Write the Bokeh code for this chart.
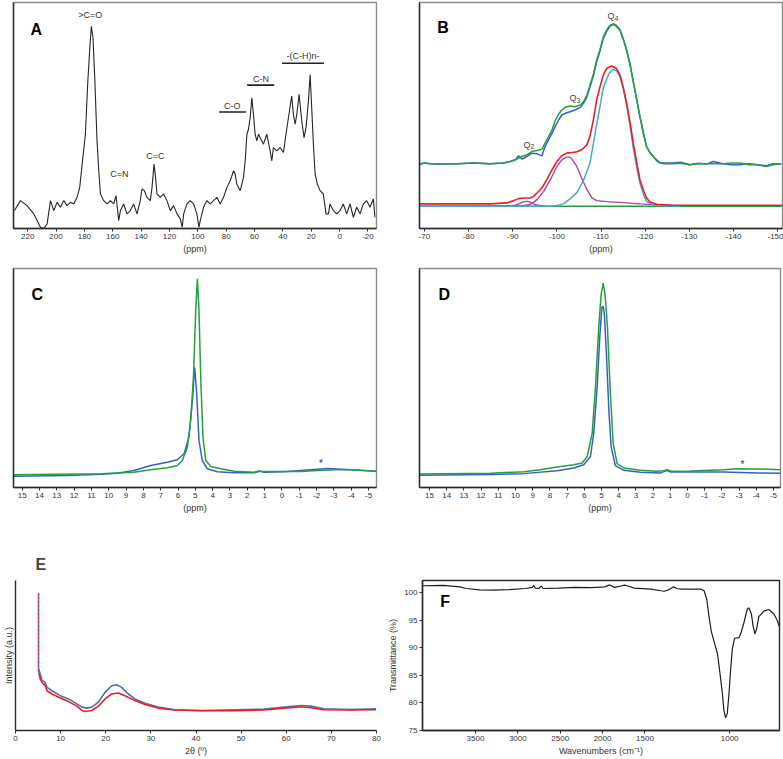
from bokeh.plotting import figure
from bokeh.models import Range1d, FixedTicker
from bokeh.layouts import row, column
from bokeh.embed import file_html
from bokeh.resources import INLINE
from bokeh.core.properties import value

FONT = "Liberation Sans"

# ---------------- Panel A : 13C NMR ----------------
a_ppm = [229.3, 225.1, 220.4, 215.7, 213.3, 211.0, 208.6, 206.3, 203.9, 201.6,
         199.2, 196.9, 194.6, 192.2, 189.9, 187.5, 185.2, 183.3, 181.6, 179.3,
         177.7, 176.2, 175.1, 173.9, 172.7, 171.1, 169.7, 168.7, 166.4, 164.0,
         161.7, 159.3, 157.7, 155.8, 154.6, 152.3, 150.0, 147.6, 145.3, 142.9,
         140.6, 139.4, 137.7, 135.9, 133.5, 132.3, 130.9, 129.8, 128.8, 126.5,
         124.1, 121.8, 119.4, 117.1, 114.7, 112.4, 111.0, 110.0, 107.7, 105.4,
         103.0, 100.7, 99.2, 98.3, 96.0, 93.6, 91.3, 88.9, 86.6, 84.2,
         81.9, 79.5, 77.2, 74.8, 73.7, 72.5, 71.3, 70.1, 67.8, 66.6,
         65.4, 64.3, 63.1, 61.9, 60.8, 59.6, 58.4, 57.2, 56.1, 53.7,
         51.4, 49.0, 47.8, 46.7, 44.3, 42.0, 39.6, 38.5, 36.8, 35.4,
         33.8, 32.6, 31.4, 30.2, 28.6, 26.7, 25.1, 23.7, 22.0, 20.8,
         19.7, 18.5, 17.3, 15.7, 13.8, 11.5, 9.6, 7.9, 6.8, 4.4,
         2.1, -0.3, -2.6, -5.0, -7.3, -9.7, -12.0, -14.4, -16.7, -19.1,
         -21.4, -23.8, -24.9]
a_int = [18, 28, 23, 14.7, 8, 1.3, 0, 4.7, 28, 18,
         26.3, 21.3, 28, 23, 26.3, 24.7, 31.3, 41.3, 64.7, 94.7,
         144.7, 181.3, 203, 191.3, 151.3, 88, 54.7, 34.7, 28, 24.7,
         28, 24.7, 33, 8, 18, 24.7, 14.7, 18, 24.7, 14.7,
         28, 39.7, 38, 31.3, 28, 41.3, 64.7, 51.3, 34.7, 31.3,
         34.7, 28, 18, 23, 14.7, 9.7, 1.3, 14.7, 24.7, 28,
         24.7, 14.7, 1.3, 8, 21.3, 28, 24.7, 28, 31.3, 24.7,
         31.3, 41.3, 48, 58, 54.7, 44.7, 41.3, 38, 51.3, 68,
         94.7, 99.7, 111.3, 131.3, 114.7, 94.7, 88, 94.7, 91.3, 84.7,
         94.7, 78, 68, 81.3, 78, 81.3, 76.3, 88, 104.7, 118,
         133, 114.7, 104.7, 114.7, 134.7, 108, 91.3, 101.3, 128, 154.7,
         121.3, 84.7, 54.7, 44.7, 38, 34.7, 14.7, 14.7, 24.7, 18,
         14.7, 18, 24.7, 14.7, 24.7, 11.3, 21.3, 14.7, 24.7, 28,
         21.3, 29.7, 11.3]
a_ticks = [220, 200, 180, 160, 140, 120, 100, 80, 60, 40, 20, 0, -20]
a_labels = [">C=O", "C=N", "C=C", "C-O", "C-N", "-(C-H)n-"]
a_label_ppm = [175.8, 155.4, 130.0, 75.8, 55.4, 25.8]
a_label_int = [214, 55, 73, 123, 150, 173]
a_bar_from = [85.0, 65.2, 40.6]
a_bar_to = [66.0, 46.2, 11.0]
a_bar_int = [117, 144, 166]

# ---------------- Panel B : 29Si NMR ----------------
b_ppm = [-68.9, -69.9, -71.4, -73.6, -77.4, -81.1, -84.9, -87.9, -89.4, -90.6,
         -91.3, -92.1, -93.2, -94.3, -95.5, -96.6,
         -97.3, -98.1, -98.9, -99.6, -100.4, -101.1, -101.9, -103.0, -104.1, -105.3,
         -106.0, -106.8, -107.5, -108.3, -109.0, -109.8, -110.5, -111.3, -112.0, -112.8,
         -113.5, -114.3, -115.0, -115.8, -116.6, -117.3, -118.1, -118.8, -119.6, -120.3,
         -121.1, -121.8, -122.6, -123.3, -124.1, -126.3, -128.0, -130.1, -132.0, -133.9,
         -135.4, -137.6, -139.5, -141.4, -143.5, -145.2, -147.4, -149.0, -150.8]
b_blue = [64, 65.7, 65, 64.7, 65, 65.7, 65, 65.7, 67.3, 69,
          73, 69.7, 72.3, 75.7, 75, 73,
          82.3, 89, 95.7, 102.3, 109, 114, 115.7, 117.3, 119, 121.7,
          125.7, 132.3, 142.3, 154, 167.3, 179, 190.7, 198.3, 203, 205,
          203, 199, 190.7, 179, 164, 147.3, 129, 112.3, 95.7, 82.3,
          75.7, 72.3, 69, 66.3, 65.7, 65.7, 66.5, 64, 65.5, 64.7,
          67.3, 65, 64, 64, 65, 64.3, 63, 65, 64.7]
b_green = [65, 65.7, 65, 64.7, 65, 65.7, 65, 65.7, 67.3, 69,
           70.5, 72.3, 74, 77.3, 78.3, 79.7,
           85.7, 92.3, 99, 108.3, 115, 119, 121.7, 123, 122.3, 124,
           127.3, 134, 144, 155.7, 169, 180.7, 192.3, 199.7, 204, 205.7,
           204, 199.7, 190.7, 179, 164, 147.3, 129, 112.3, 95.7, 82.3,
           76.3, 72.3, 68, 65.7, 65, 65, 65.5, 64, 65, 65,
           65, 65, 65.7, 65.7, 64, 64, 62.3, 64, 65]
b_fit_ppm = [-68.9, -84.9, -88.7, -90.2, -91.3, -92.4, -94.0, -94.7, -95.5, -96.6,
             -97.7, -98.9, -100.0, -101.1, -102.2, -103.4, -104.5, -105.6, -106.8, -107.5,
             -108.3, -109.0, -109.8, -110.5, -111.3, -112.4, -113.5, -114.3, -115.0, -115.8,
             -116.6, -117.3, -118.1, -118.8, -119.6, -120.3, -121.1, -122.6, -126.3, -151.0]
b_fit = [24.7, 24.7, 25.7, 28, 30, 30.7, 30.7, 32.3, 35.7, 40.7,
         49, 59, 67.3, 73, 75.7, 76.3, 77, 79, 84, 93,
         110, 129, 143, 154, 161, 163.3, 160.7, 154, 142.3, 125.7,
         105.7, 85.7, 65.7, 49, 38.3, 30.7, 26.7, 24.3, 23.3, 23.3]
b_q2_ppm = [-88.5, -90.5, -91.5, -92.3, -93.0, -93.8, -94.6, -95.5, -97.5]
b_q2 = [22.3, 23.3, 25, 26.8, 27.3, 26.8, 25, 23.3, 22.3]
b_q3_ppm = [-68.9, -92.4, -94.0, -95.5, -97.0, -98.5, -100.0, -101.1, -102.2, -103.0,
            -103.4, -104.5, -105.6, -106.8, -107.9, -109.0, -111.3, -115.0, -118.8, -122.6,
            -127.9]
b_q3 = [22.3, 23, 24.3, 29, 37.3, 49, 62.3, 69, 71.7, 71.7,
        69.7, 62.3, 50.7, 39, 30.7, 28, 27, 26, 24.7, 23.7,
        22.7]
b_q4_ppm = [-68.9, -98.5, -100.0, -101.5, -103.0, -104.5, -106.0, -107.5, -109.0, -110.5,
            -111.7, -112.4, -112.9, -113.5, -114.3, -115.0, -115.8, -116.6, -117.3, -118.1,
            -118.8, -119.6, -120.3, -121.5, -122.6, -127.9]
b_q4 = [22.3, 22.3, 23, 25, 29.7, 36, 48, 66, 104, 141,
        155, 159, 159.7, 158.3, 152.3, 140.7, 124, 102.3, 80.7, 60.7,
        45.7, 34, 27.3, 24, 23, 22.3]
b_base_ppm = [-68.9, -151.0]
b_base = [22.3, 22.3]
b_ticks = [-70, -80, -90, -100, -110, -120, -130, -140, -150]
b_q_names = ["Q", "Q", "Q"]
b_q_sub = ["2", "3", "4"]
b_q_ppm = [-93.7, -104.1, -112.7]
b_q_int = [84, 131, 213]

# ---------------- Panel C : 1H NMR ----------------
c_ppm_green = [15.48, 10.47, 8.54, 7.58, 6.62, 6.04, 5.75, 5.46, 5.27, 5.11,
               4.98, 4.88, 4.79, 4.69, 4.56, 4.40, 4.11, 3.53, 2.76, 1.61,
               1.35, 1.22, 0.84, -1.09, -2.05, -3.02, -3.98, -5.46]
c_green = [12.7, 13.7, 15.3, 17.7, 19.7, 22, 27, 40.3, 67, 110.3,
           177, 208.7, 177, 110.3, 50.3, 27, 21, 18.7, 16.3, 15.3,
           16.5, 16.3, 16, 16, 17, 17.7, 17.7, 16.3]
c_ppm_blue = [15.48, 12.4, 10.47, 9.51, 8.54, 7.58, 6.62, 6.04, 5.65, 5.37,
              5.17, 5.04, 4.92, 4.79, 4.60, 4.31, 3.73, 2.76, 1.61, 1.26,
              1.03, -0.13, -2.05, -2.63, -3.98, -5.46]
c_blue = [11.3, 12, 13.3, 14.3, 17, 22, 25.3, 27.7, 33.7, 50.3,
          87, 120.3, 93.7, 47, 27, 18.7, 15.7, 14.7, 14.7, 16.3,
          15.3, 15.7, 18.3, 19, 17.7, 16.3]

# ---------------- Panel D : 1H NMR ----------------
d_ppm_green = [15.58, 11.45, 9.52, 8.55, 7.58, 6.61, 6.12, 5.83, 5.54, 5.35,
               5.16, 5.02, 4.90, 4.79, 4.65, 4.48, 4.32, 4.09, 3.70, 2.73,
               1.76, 1.38, 1.18, 0.89, -0.17, -2.11, -2.89, -4.05, -5.41]
d_green = [13.7, 14.3, 16, 18, 20.7, 23, 24.7, 31.3, 54.7, 101.3,
           161.3, 194.7, 206.3, 194.7, 161.3, 94.7, 44.7, 24, 19.7, 17.3,
           16.3, 17, 18, 16.3, 16.7, 18, 19, 18.7, 18]
d_ppm_blue = [15.58, 11.45, 9.52, 7.58, 6.61, 6.03, 5.64, 5.45, 5.25, 5.10,
              4.98, 4.90, 4.83, 4.71, 4.57, 4.44, 4.19, 3.70, 2.73, 1.57,
              1.38, 1.18, 0.99, -0.17, -2.11, -4.05, -5.41]
d_blue = [12.3, 13, 14, 17, 19.7, 23, 31.3, 54.7, 101.3, 151.3,
          181.3, 183, 174.7, 134.7, 78, 41.3, 22, 17.3, 15.3, 14.7,
          16, 17, 15.7, 15.7, 15.7, 14.7, 14.3]
cd_ticks = [15, 14, 13, 12, 11, 10, 9, 8, 7, 6, 5, 4, 3, 2, 1, 0, -1, -2, -3, -4, -5]
c_star = (-2.25, 24.0)
d_star = (-3.2, 23.0)

# ---------------- Panel E : XRD ----------------
e_start_2theta = [5.1, 5.1]
e_start = [139, 59]
e_2theta_red = [5.15, 5.51, 5.88, 6.25, 6.62, 6.99, 8.09, 9.93, 11.76, 13.6,
                14.71, 15.44, 16.91, 18.38, 19.85, 21.32, 22.79, 24.26, 26.47, 28.68,
                31.62, 35.29, 41.18, 48.53, 55.15, 59.56, 63.24, 65.44, 68.38, 74.26,
                79.93]
e_red = [58.7, 52, 48.7, 47, 45.3, 40.3, 37, 33, 29.3, 24.7,
         20.3, 19.3, 20.3, 24.7, 32, 37, 38, 35.3, 30.3, 26.3,
         22.7, 20.7, 20, 20, 20.7, 22.7, 24, 23, 21, 20.7,
         21]
e_2theta_blue = [5.15, 5.51, 5.88, 6.47, 6.99, 8.09, 9.93, 11.76, 13.6, 14.71,
                 15.81, 16.91, 18.38, 19.85, 21.32, 22.43, 23.53, 25.0, 26.47, 28.68,
                 31.62, 35.29, 41.18, 48.53, 55.15, 59.56, 63.24, 65.44, 68.38, 74.26,
                 79.93]
e_blue = [62, 57, 50.3, 49.3, 43.7, 40.3, 35.3, 32, 27, 23.7,
          22.7, 23.7, 28.7, 38.7, 45.3, 46.3, 43.7, 37, 32, 27.7,
          23.7, 21, 20.3, 21, 21.7, 23.7, 25.3, 24.7, 22, 21.3,
          22]
e_ticks = [0, 10, 20, 30, 40, 50, 60, 70, 80]

# ---------------- Panel F : FTIR ----------------
f_wn = [4125, 3880, 3686, 3609, 3452, 3297, 3102, 2908, 2830, 2810,
        2792, 2752, 2722, 2702, 2519, 2325, 2130, 1975, 1917, 1858,
        1780, 1742, 1702, 1625, 1465, 1406, 1386, 1357, 1331, 1312,
        1288, 1229, 1171, 1151, 1135, 1122, 1108, 1092, 1072, 1057,
        1043, 1034, 1024, 1014, 1004, 994, 984, 971, 945, 935,
        916, 896, 886, 872, 861, 851, 841, 828, 798, 769,
        739, 719, 707]
f_t = [101.2, 101.25, 101.0, 100.7, 100.45, 100.4, 100.5, 100.7, 100.9, 101.25,
       100.76, 100.7, 101.15, 100.7, 100.76, 100.9, 100.85, 101.0, 101.35, 100.9,
       101.15, 101.3, 101.15, 100.76, 100.6, 100.3, 100.2, 100.5, 101.0, 100.7,
       100.6, 100.6, 100.6, 100.3, 98.7, 95.6, 92.9, 91.1, 88.9, 85.3,
       81.7, 78.6, 77.3, 78.1, 81.7, 86.2, 89.8, 91.7, 91.8, 92.5,
       94.5, 97.0, 97.2, 96.1, 93.8, 92.5, 93.4, 95.6, 96.6, 96.9,
       96.1, 94.9, 93.8]
f_xticks = [3500, 3000, 2500, 2000, 1500, 1000]
f_yticks = [75, 80, 85, 90, 95, 100]
F_SPLIT = 1500     # below this wavenumber the axis is drawn at double scale
F_STRETCH = 2.0


def f_axis(wn):
    return wn if wn >= F_SPLIT else F_SPLIT - F_STRETCH * (F_SPLIT - wn)


BLUE = "#3a5ec8"
GREEN = "#23a13a"
RED = "#ee1d24"
CYAN = "#4aaac4"
MAGENTA = "#a24a9e"
TXT = "#333333"


def base_fig(width, height, xr, yr, mb, title=None):
    p = figure(width=width, height=height, x_range=xr, y_range=yr, title=title,
               output_backend="svg", toolbar_location=None,
               min_border_left=mb[0], min_border_right=mb[1],
               min_border_top=mb[2], min_border_bottom=mb[3])
    p.grid.visible = False
    p.background_fill_color = "white"
    p.border_fill_color = "white"
    p.outline_line_color = "#8c8c8c"
    p.outline_line_width = 1.4
    return p


def style_xaxis(ax, ticks, label):
    ax.ticker = FixedTicker(ticks=ticks)
    ax.major_label_overrides = {t: str(t) for t in ticks}
    ax.axis_label = label
    ax.axis_label_text_font = FONT
    ax.axis_label_text_font_size = "9px"
    ax.axis_label_text_font_style = "normal"
    ax.axis_label_text_color = TXT
    ax.axis_label_standoff = 2
    ax.major_label_text_font = FONT
    ax.major_label_text_font_size = "8px"
    ax.major_label_text_color = TXT
    ax.major_label_standoff = 2
    ax.major_tick_in = 0
    ax.major_tick_out = 3
    ax.minor_tick_line_color = None
    ax.axis_line_color = "#2a2a2a"
    ax.axis_line_width = 1.4
    ax.major_tick_line_color = "#2a2a2a"


def bare_yaxis(ax):
    ax.ticker = FixedTicker(ticks=[])
    ax.major_tick_line_color = None
    ax.minor_tick_line_color = None
    ax.axis_line_color = "#2a2a2a"
    ax.axis_line_width = 1.4


def panel_letter(p, x, y, letter):
    p.text(x=[x], y=[y], text=[letter], text_font=value(FONT),
           text_font_size=value("16px"), text_font_style="bold",
           text_align="left", text_baseline="middle", text_color="black")


# ---- A ----
pA = base_fig(400, 258, Range1d(230, -26), Range1d(0, 227), (13, 24, 1, 30))
pA.line(a_ppm, a_int, line_color="#262626", line_width=1.1)
pA.text(x=a_label_ppm, y=a_label_int, text=a_labels, text_font=value(FONT),
        text_font_size=value("9px"), text_align="center", text_baseline="middle",
        text_color=TXT)
pA.segment(x0=a_bar_from, y0=a_bar_int, x1=a_bar_to, y1=a_bar_int,
           line_color="#222222", line_width=1.6)
style_xaxis(pA.xaxis[0], a_ticks, "(ppm)")
bare_yaxis(pA.yaxis[0])
panel_letter(pA, 218, 200, "A")

# ---- B ----
pB = base_fig(383, 258, Range1d(-68.87, -151.1), Range1d(0, 227), (19, 1, 2, 29))
pB.line(b_base_ppm, b_base, line_color=GREEN, line_width=1.4)
pB.line(b_q2_ppm, b_q2, line_color=MAGENTA, line_width=1.4)
pB.line(b_q3_ppm, b_q3, line_color=MAGENTA, line_width=1.4)
pB.line(b_q4_ppm, b_q4, line_color=CYAN, line_width=1.5)
pB.line(b_fit_ppm, b_fit, line_color=RED, line_width=1.6)
pB.line(b_ppm, b_blue, line_color=BLUE, line_width=1.5)
pB.line(b_ppm, b_green, line_color=GREEN, line_width=1.5)
pB.text(x=b_q_ppm, y=b_q_int, text=b_q_names, text_font=value(FONT),
        text_font_size=value("9px"), text_align="right", text_baseline="middle",
        x_offset=1.5, text_color="#444444")
pB.text(x=b_q_ppm, y=b_q_int, text=b_q_sub, text_font=value(FONT),
        text_font_size=value("7px"), text_align="left", text_baseline="middle",
        x_offset=1.5, y_offset=2, text_color="#444444")
style_xaxis(pB.xaxis[0], b_ticks, "(ppm)")
bare_yaxis(pB.yaxis[0])
panel_letter(pB, -72.9, 202, "B")

# ---- C ----
pC = base_fig(400, 257, Range1d(15.5, -5.46), Range1d(0, 219), (13, 24, 10, 28))
pC.line(c_ppm_blue, c_blue, line_color=BLUE, line_width=1.5)
pC.line(c_ppm_green, c_green, line_color=GREEN, line_width=1.5)
pC.text(x=[c_star[0]], y=[c_star[1]], text=["*"], text_font=value(FONT),
        text_font_size=value("10px"), text_align="center", text_baseline="middle",
        text_color=TXT)
style_xaxis(pC.xaxis[0], cd_ticks, "(ppm)")
bare_yaxis(pC.yaxis[0])
panel_letter(pC, 14.46, 193.5, "C")

# ---- D ----
pD = base_fig(383, 257, Range1d(15.58, -5.41), Range1d(0, 221), (19, 3, 9, 27))
pD.line(d_ppm_blue, d_blue, line_color=BLUE, line_width=1.5)
pD.line(d_ppm_green, d_green, line_color=GREEN, line_width=1.5)
pD.text(x=[d_star[0]], y=[d_star[1]], text=["*"], text_font=value(FONT),
        text_font_size=value("10px"), text_align="center", text_baseline="middle",
        text_color=TXT)
style_xaxis(pD.xaxis[0], cd_ticks, "(ppm)")
bare_yaxis(pD.yaxis[0])
panel_letter(pD, 14.48, 194.5, "D")

# ---- E ----
pE = base_fig(385, 244, Range1d(0, 80), Range1d(0, 152), (13, 9, 65, 27), title="E")
pE.outline_line_color = None
pE.title.text_font = FONT
pE.title.text_font_size = "16px"
pE.title.text_font_style = "bold"
pE.title.align = "left"
pE.title.offset = 20
pE.title.standoff = 15
pE.line(e_start_2theta, e_start, line_color="#4f6fb0", line_width=1.6, line_dash="2 2",
        line_dash_offset=2)
pE.line(e_start_2theta, e_start, line_color=RED, line_width=1.6, line_dash="2 2")
pE.line(e_2theta_blue, e_blue, line_color="#4f6fb0", line_width=1.6)
pE.line(e_2theta_red, e_red, line_color=RED, line_width=1.6)
style_xaxis(pE.xaxis[0], e_ticks, "2θ (º)")
bare_yaxis(pE.yaxis[0])
ya = pE.yaxis[0]
ya.axis_label = "Intensity (a.u.)"
ya.axis_label_text_font = FONT
ya.axis_label_text_font_size = "9px"
ya.axis_label_text_font_style = "normal"
ya.axis_label_text_color = TXT
ya.axis_label_standoff = 2

# ---- F ----
pF = base_fig(398, 244, Range1d(f_axis(4125), f_axis(706)), Range1d(75, 102.15),
              (34, 4, 13, 29))
pF.outline_line_color = "#2a2a2a"
pF.line([f_axis(w) for w in f_wn], f_t, line_color="#1e1e1e", line_width=1.2)
style_xaxis(pF.xaxis[0], [f_axis(t) for t in f_xticks], "Wavenumbers (cm\u207b\u00b9)")
pF.xaxis[0].major_label_overrides = {f_axis(t): str(t) for t in f_xticks}
fy = pF.yaxis[0]
style_xaxis(fy, f_yticks, "Transmittance (%)")
fy.axis_label_standoff = 3
panel_letter(pF, f_axis(3915), 98.3, "F")

layout = column(row(pA, pB), row(pC, pD), row(pE, pF))
open("out.html", "w").write(file_html(layout, INLINE))
